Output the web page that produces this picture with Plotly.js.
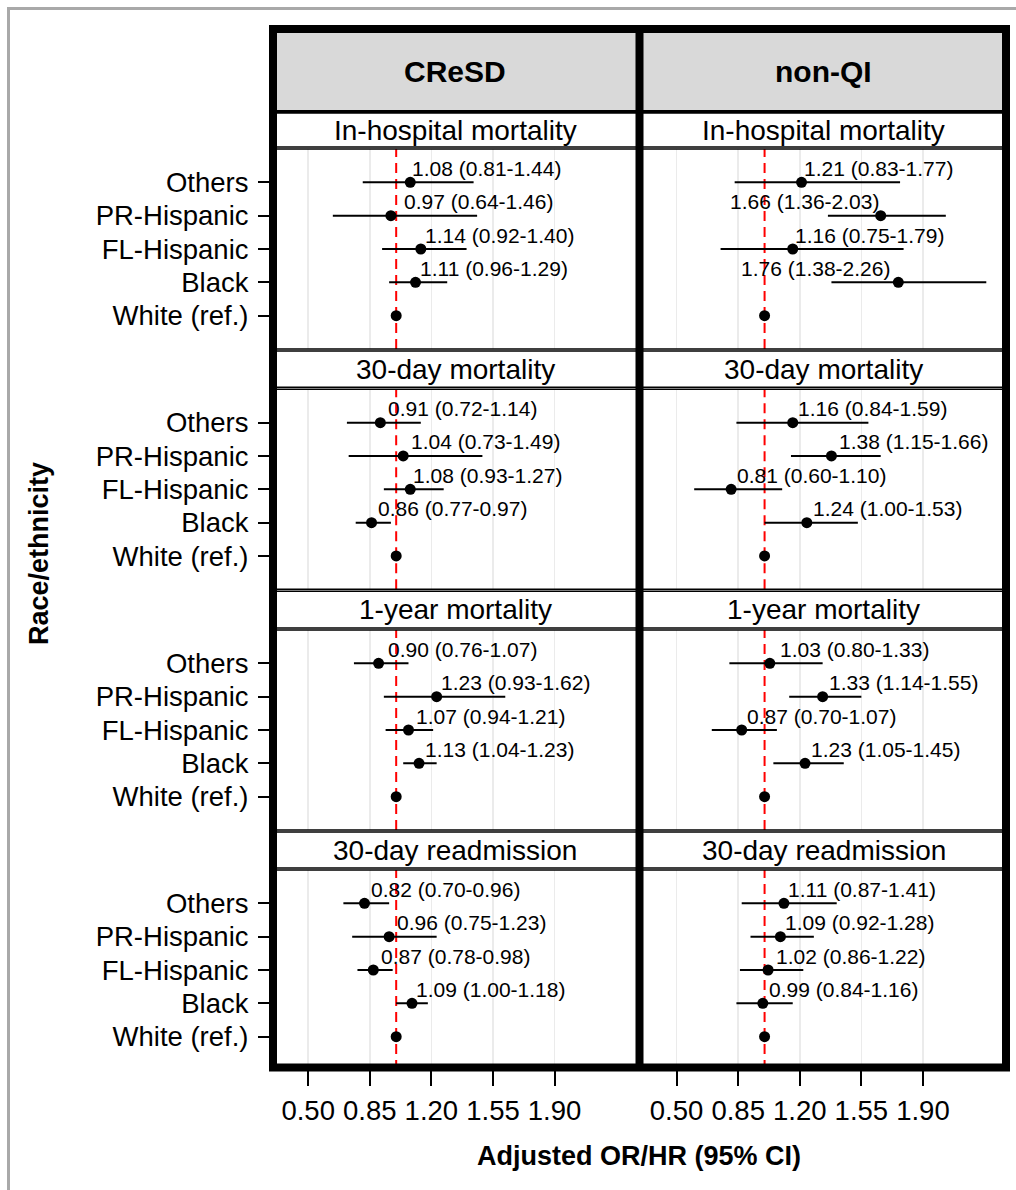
<!DOCTYPE html>
<html><head><meta charset="utf-8">
<script src="https://cdn.plot.ly/plotly-3.0.1.min.js"></script>
<style>html,body{margin:0;padding:0;background:#fff;} #chart{width:1016px;height:1190px;}</style>
</head><body><div id="chart"></div>
<script>
// ---------- data ----------
const categories = ['Others', 'PR-Hispanic', 'FL-Hispanic', 'Black', 'White (ref.)'];
const outcomes = ['In-hospital mortality', '30-day mortality', '1-year mortality', '30-day readmission'];
const groups = ['CReSD', 'non-QI'];
const xTickVals = [0.50, 0.85, 1.20, 1.55, 1.90];
const xTickText = ['0.50', '0.85', '1.20', '1.55', '1.90'];

// one row per outcome, one value per category (Others, PR-Hispanic, FL-Hispanic, Black, White)
const cresdOR   = [[1.08, 0.97, 1.14, 1.11, 1.00], [0.91, 1.04, 1.08, 0.86, 1.00], [0.90, 1.23, 1.07, 1.13, 1.00], [0.82, 0.96, 0.87, 1.09, 1.00]];
const cresdLow  = [[0.81, 0.64, 0.92, 0.96, 1.00], [0.72, 0.73, 0.93, 0.77, 1.00], [0.76, 0.93, 0.94, 1.04, 1.00], [0.70, 0.75, 0.78, 1.00, 1.00]];
const cresdHigh = [[1.44, 1.46, 1.40, 1.29, 1.00], [1.14, 1.49, 1.27, 0.97, 1.00], [1.07, 1.62, 1.21, 1.23, 1.00], [0.96, 1.23, 0.98, 1.18, 1.00]];
const nonqiOR   = [[1.21, 1.66, 1.16, 1.76, 1.00], [1.16, 1.38, 0.81, 1.24, 1.00], [1.03, 1.33, 0.87, 1.23, 1.00], [1.11, 1.09, 1.02, 0.99, 1.00]];
const nonqiLow  = [[0.83, 1.36, 0.75, 1.38, 1.00], [0.84, 1.15, 0.60, 1.00, 1.00], [0.80, 1.14, 0.70, 1.05, 1.00], [0.87, 0.92, 0.86, 0.84, 1.00]];
const nonqiHigh = [[1.77, 2.03, 1.79, 2.26, 1.00], [1.59, 1.66, 1.10, 1.53, 1.00], [1.33, 1.55, 1.07, 1.45, 1.00], [1.41, 1.28, 1.22, 1.16, 1.00]];
// where each estimate label starts (OR units) (repelled labels)
const cresdLabelX = [[1.085, 1.04, 1.16, 1.13], [0.945, 1.08, 1.09, 0.89], [0.945, 1.25, 1.105, 1.16], [0.85, 1.00, 0.91, 1.105]];
const nonqiLabelX = [[1.22, 0.795, 1.17, 0.86], [1.185, 1.415, 0.84, 1.27], [1.08, 1.36, 0.895, 1.26], [1.13, 1.11, 1.06, 1.02]];

// ---------- layout helpers ----------
const W = 1016, H = 1190;
const px = v => v / W;
const py = v => 1 - v / H;
const colX = [[273, 637.6], [641.4, 1006]];
const rowTop = [149, 389.3, 630, 870];
const rowH = 200;
const FONT = 'Liberation Sans, Arial, Helvetica, sans-serif';

const dataSets = [
  {or: cresdOR, lo: cresdLow, hi: cresdHigh, lx: cresdLabelX},
  {or: nonqiOR, lo: nonqiLow, hi: nonqiHigh, lx: nonqiLabelX}
];

const traces = [];
const layout = {
  width: W, height: H,
  margin: {l: 0, r: 0, t: 0, b: 0},
  paper_bgcolor: '#ffffff', plot_bgcolor: '#ffffff',
  showlegend: false,
  font: {family: FONT, color: '#000000', size: 27},
  shapes: [], annotations: []
};
const fmt = v => v.toFixed(2);

// outer grey figure border
layout.shapes.push({type: 'rect', xref: 'paper', yref: 'paper', x0: px(8.5), x1: px(1040), y0: py(8.5), y1: py(1230),
  line: {color: '#A9A9A9', width: 3}, fillcolor: 'rgba(0,0,0,0)', layer: 'below'});

for (let r = 0; r < outcomes.length; r++) {
  for (let c = 0; c < groups.length; c++) {
    const n = r * 2 + c + 1;
    const xa = 'xaxis' + (n === 1 ? '' : n), ya = 'yaxis' + (n === 1 ? '' : n);
    const xr = 'x' + (n === 1 ? '' : n), yr = 'y' + (n === 1 ? '' : n);
    const d = dataSets[c];
    const top = rowTop[r], bot = rowTop[r] + rowH;
    layout[xa] = {
      domain: [px(colX[c][0]), px(colX[c][1])], range: [0.30, 2.372], anchor: yr,
      tickmode: 'array', tickvals: xTickVals, ticktext: xTickText,
      showgrid: true, gridcolor: '#EBEBEB', gridwidth: 1.5, zeroline: false, showline: false,
      ticks: r === outcomes.length - 1 ? 'outside' : '', ticklen: 15, tickwidth: 2, tickcolor: '#000',
      showticklabels: r === outcomes.length - 1, tickfont: {size: 27.5, color: '#000'},
      ticklabelstandoff: 1, fixedrange: true
    };
    layout[ya] = {
      domain: [py(bot), py(top)], anchor: xr, type: 'category',
      categoryorder: 'array', categoryarray: categories.slice().reverse(), range: [-1, 5],
      showgrid: false, zeroline: false, showline: false,
      ticks: c === 0 ? 'outside' : '', ticklen: 14, tickwidth: 2, tickcolor: '#000',
      showticklabels: c === 0, tickfont: {size: 27.5, color: '#000'}, ticklabelstandoff: 4, fixedrange: true
    };
    const orv = d.or[r], lov = d.lo[r], hiv = d.hi[r];
    traces.push({
      type: 'scatter', mode: 'markers', xaxis: xr, yaxis: yr,
      x: orv, y: categories,
      marker: {color: '#000', size: 11},
      error_x: {type: 'data', symmetric: false,
        array: orv.map((v, i) => hiv[i] - v), arrayminus: orv.map((v, i) => v - lov[i]),
        color: '#000', thickness: 2, width: 0},
      hoverinfo: 'skip'
    });
    // reference line at 1
    layout.shapes.push({type: 'line', xref: xr, yref: yr + ' domain', x0: 1, x1: 1, y0: 0, y1: 1,
      line: {color: '#FF0000', width: 2, dash: '10px,6px'}, layer: 'below'});
    // panel border
    layout.shapes.push({type: 'rect', xref: 'paper', yref: 'paper', x0: px(colX[c][0]), x1: px(colX[c][1]), y0: py(bot), y1: py(top),
      line: {color: '#000', width: 1.5}, fillcolor: 'rgba(0,0,0,0)'});
    // row strip
    const sTop = r === 0 ? 113 : rowTop[r - 1] + rowH + 2;
    const sBot = top - 2;
    layout.shapes.push({type: 'rect', xref: 'paper', yref: 'paper', x0: px(colX[c][0]), x1: px(colX[c][1]), y0: py(sBot), y1: py(sTop),
      line: {color: '#000', width: 1.5}, fillcolor: '#ffffff'});
    layout.annotations.push({xref: 'paper', yref: 'paper', x: px((colX[c][0] + colX[c][1]) / 2), y: py((sTop + sBot) / 2),
      text: outcomes[r], showarrow: false, xanchor: 'center', yanchor: 'middle', font: {size: 28, color: '#000'}});
    // estimate labels
    for (let k = 0; k < categories.length - 1; k++) {
      layout.annotations.push({xref: xr, yref: yr, x: d.lx[r][k], y: categories[k], yshift: 14,
        text: fmt(orv[k]) + ' (' + fmt(lov[k]) + '-' + fmt(hiv[k]) + ')',
        showarrow: false, xanchor: 'left', yanchor: 'middle', borderpad: 0, font: {size: 21, color: '#000'}});
    }
  }
}

// column strips
for (let c = 0; c < groups.length; c++) {
  layout.shapes.push({type: 'rect', xref: 'paper', yref: 'paper', x0: px(colX[c][0]), x1: px(colX[c][1]), y0: py(110), y1: py(33),
    line: {width: 0}, fillcolor: '#D9D9D9'});
  layout.shapes.push({type: 'line', xref: 'paper', yref: 'paper', x0: px(colX[c][0]), x1: px(colX[c][1]), y0: py(111.5), y1: py(111.5),
    line: {color: '#000', width: 3}});
  layout.annotations.push({xref: 'paper', yref: 'paper', x: px((colX[c][0] + colX[c][1]) / 2), y: py(71.5),
    text: '<b>' + groups[c] + '</b>', showarrow: false, xanchor: 'center', yanchor: 'middle', font: {size: 30, color: '#000'}});
}

// thick frame
layout.shapes.push({type: 'rect', xref: 'paper', yref: 'paper', x0: px(273), x1: px(1006), y0: py(1067.5), y1: py(29),
  line: {color: '#000', width: 8}, fillcolor: 'rgba(0,0,0,0)'});
layout.shapes.push({type: 'line', xref: 'paper', yref: 'paper', x0: px(639.5), x1: px(639.5), y0: py(1067.5), y1: py(29),
  line: {color: '#000', width: 8}});

// axis titles
layout.annotations.push({xref: 'paper', yref: 'paper', x: px(639), y: py(1156), text: '<b>Adjusted OR/HR (95% CI)</b>',
  showarrow: false, xanchor: 'center', yanchor: 'middle', font: {size: 27, color: '#000'}});
layout.annotations.push({xref: 'paper', yref: 'paper', x: px(39), y: py(554), text: '<b>Race/ethnicity</b>', textangle: -90,
  showarrow: false, xanchor: 'center', yanchor: 'middle', font: {size: 27, color: '#000'}});

Plotly.newPlot('chart', traces, layout, {displayModeBar: false, staticPlot: true});
</script>
</body></html>
